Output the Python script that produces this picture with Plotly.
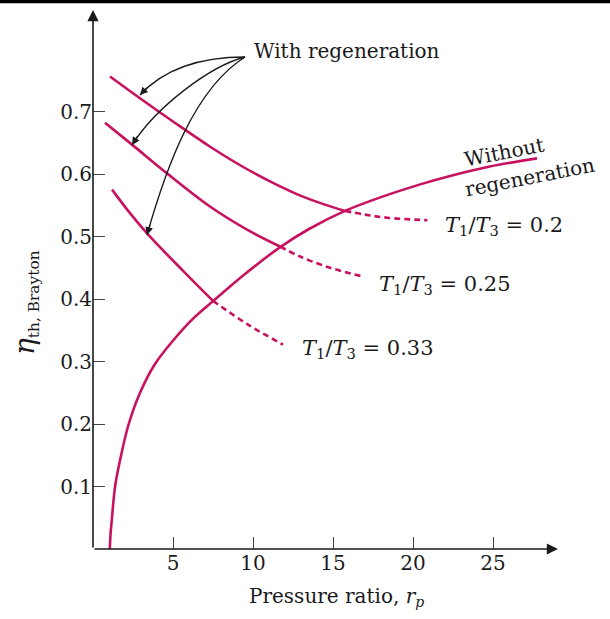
import math
import plotly.graph_objects as go

# ---------------- data ----------------
rp_noregen = [1.05, 1.1, 1.17, 1.375, 1.69, 2.21, 2.94, 3.875, 5.02, 6.27, 7.52, 9.5, 11.7, 13.5, 15.75, 18.0, 20.4, 22.5, 24.8, 27.75]
eta_noregen = [0.0, 0.025, 0.045, 0.099, 0.142, 0.198, 0.250, 0.296, 0.334, 0.369, 0.397, 0.440, 0.483, 0.512, 0.541, 0.563, 0.583, 0.598, 0.612, 0.625]

rp_r020_solid = [1.06, 3.0, 5.0, 7.3, 9.2, 11.0, 13.0, 14.5, 15.75]
eta_r020_solid = [0.756, 0.720, 0.684, 0.644, 0.614, 0.589, 0.565, 0.551, 0.541]
rp_r020_dash = [15.75, 17.0, 18.4, 20.9]
eta_r020_dash = [0.541, 0.535, 0.530, 0.526]

rp_r025_solid = [0.75, 2.44, 4.63, 7.31, 9.63, 11.69]
eta_r025_solid = [0.682, 0.647, 0.601, 0.548, 0.511, 0.484]
rp_r025_dash = [11.69, 12.94, 14.81, 16.88]
eta_r025_dash = [0.484, 0.468, 0.450, 0.436]

rp_r033_solid = [1.19, 2.2, 3.38, 5.63, 7.5]
eta_r033_solid = [0.575, 0.541, 0.505, 0.445, 0.397]
rp_r033_dash = [7.5, 9.69, 11.88]
eta_r033_dash = [0.397, 0.359, 0.327]

x_ticks = [5, 10, 15, 20, 25]
y_ticks = [0.1, 0.2, 0.3, 0.4, 0.5, 0.6, 0.7]
y_ticktext = ["0.1", "0.2", "0.3", "0.4", "0.5", "0.6", "0.7"]

# ---------------- layout geometry ----------------
W, H = 610, 619
ML, MR, MT, MB = 93, 52, 10, 70
PW, PH = W - ML - MR, H - MT - MB
XS, YS = 16.0, 625.0            # px per unit
X_MAX = PW / XS
Y_MAX = PH / YS


def dx(px):
    return (px - ML) / XS


def dy(py):
    return (H - MB - py) / YS


def px_x(px):
    return (px - ML) / PW


def px_y(py):
    return (H - MB - py) / PH


CURVE = "#c8125f"
INK = "#1a1a1a"
FONT = "DejaVu Serif"

fig = go.Figure()


def add_line(x, y, dash="solid"):
    fig.add_trace(go.Scatter(
        x=x, y=y, mode="lines",
        line=dict(color=CURVE, width=2.6, dash=dash, shape="spline", smoothing=1.0),
        showlegend=False, hoverinfo="skip", cliponaxis=False))


add_line(rp_noregen, eta_noregen)
add_line(rp_r020_solid, eta_r020_solid)
add_line(rp_r020_dash, eta_r020_dash, dash="6px,4px")
add_line(rp_r025_solid, eta_r025_solid)
add_line(rp_r025_dash, eta_r025_dash, dash="6px,4px")
add_line(rp_r033_solid, eta_r033_solid)
add_line(rp_r033_dash, eta_r033_dash, dash="6px,4px")

shapes = []
annotations = []

# top border line
shapes.append(dict(type="rect", xref="paper", yref="paper",
                   x0=px_x(0), x1=px_x(W), y0=px_y(3.2), y1=px_y(0),
                   fillcolor="black", line=dict(width=0), layer="above"))

# axes with arrowheads
annotations.append(dict(x=X_MAX, y=0, ax=0, ay=0, xref="x", yref="y", axref="x", ayref="y",
                        showarrow=True, arrowhead=2, arrowsize=1.4, arrowwidth=1.6,
                        arrowcolor=INK, text=""))
annotations.append(dict(x=0, y=Y_MAX, ax=0, ay=0, xref="x", yref="y", axref="x", ayref="y",
                        showarrow=True, arrowhead=2, arrowsize=1.4, arrowwidth=1.6,
                        arrowcolor=INK, text=""))

# curved pointer arrows from "With regeneration"
curves = [
    ((245, 57), (200, 57), (165, 68), (140, 95)),
    ((245, 57), (210, 66), (156, 107), (132, 145)),
    ((245, 57), (194, 89), (166, 168), (147, 235)),
]
for p0, c1, c2, p3 in curves:
    path = "M {} {} C {} {}, {} {}, {} {}".format(
        dx(p0[0]), dy(p0[1]), dx(c1[0]), dy(c1[1]), dx(c2[0]), dy(c2[1]), dx(p3[0]), dy(p3[1]))
    shapes.append(dict(type="path", path=path, xref="x", yref="y",
                       line=dict(color=INK, width=1.3), layer="above"))
    tx, ty = p3[0] - c2[0], p3[1] - c2[1]
    n = math.hypot(tx, ty)
    L = 12
    annotations.append(dict(x=dx(p3[0]), y=dy(p3[1]), ax=-tx / n * L, ay=-ty / n * L,
                            xref="x", yref="y", showarrow=True, arrowhead=2, arrowsize=1.2,
                            arrowwidth=1.3, arrowcolor=INK, text=""))


# text labels
def label(text, px, py, xanchor="left", size=20, angle=0):
    annotations.append(dict(x=px_x(px), y=px_y(py), xref="paper", yref="paper", text=text,
                            showarrow=False, xanchor=xanchor, yanchor="middle", textangle=angle,
                            font=dict(family=FONT, size=size, color=INK)))


label("With regeneration", 252, 51)
label("Without", 504, 152, xanchor="center", angle=-11)
label("regeneration", 530, 177, xanchor="center", angle=-11)
label("<i>T</i><sub>1</sub>/<i>T</i><sub>3</sub> = 0.2", 443, 226, size=21)
label("<i>T</i><sub>1</sub>/<i>T</i><sub>3</sub> = 0.25", 377, 285, size=21)
label("<i>T</i><sub>1</sub>/<i>T</i><sub>3</sub> = 0.33", 300, 349, size=21)
label("Pressure ratio,&nbsp;<i>r</i><sub><i>p</i></sub>", 336, 597, xanchor="center")
label("<span style='font-size:28px'><i>η</i></span><sub>th, Brayton</sub>", 25, 303,
      xanchor="center", size=22, angle=-90)

fig.update_layout(
    width=W, height=H,
    margin=dict(l=ML, r=MR, t=MT, b=MB, pad=0),
    paper_bgcolor="white", plot_bgcolor="white",
    shapes=shapes, annotations=annotations,
    xaxis=dict(range=[0, X_MAX], tickvals=x_ticks, ticks="inside", ticklen=12, tickwidth=1,
               tickcolor="#444", showgrid=False, zeroline=False, showline=False,
               tickfont=dict(family=FONT, size=20, color=INK), fixedrange=True),
    yaxis=dict(range=[0, Y_MAX], tickvals=y_ticks, ticktext=y_ticktext, ticks="inside", ticklen=12,
               tickwidth=1, tickcolor="#444", showgrid=False, zeroline=False, showline=False,
               tickfont=dict(family=FONT, size=20, color=INK), fixedrange=True),
    showlegend=False,
)

fig.write_html("out.html", config={"displayModeBar": False},
               post_script="document.body.style.margin='0px';")
